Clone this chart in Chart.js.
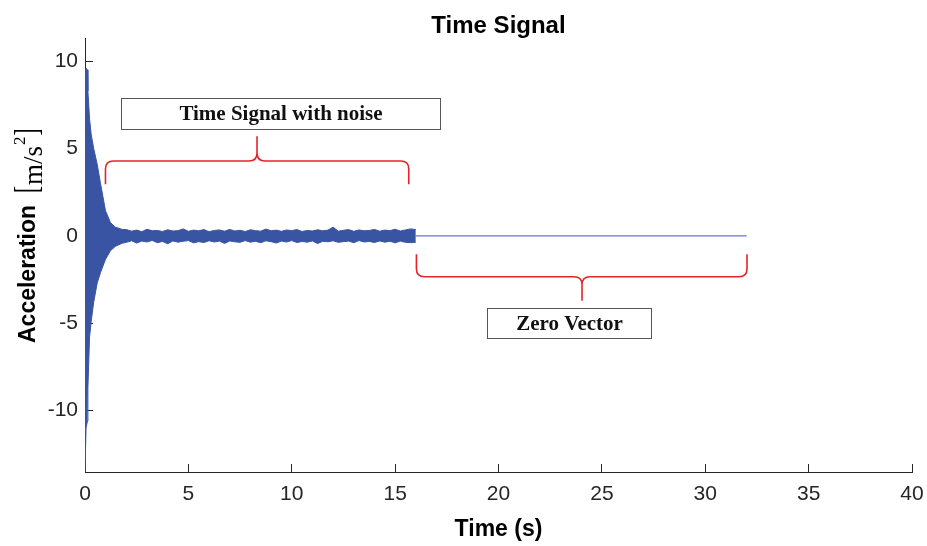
<!DOCTYPE html>
<html>
<head>
<meta charset="utf-8">
<script src="https://cdn.jsdelivr.net/npm/chart.js@4.4.0/dist/chart.umd.min.js"></script>
<style>
  html, body { margin: 0; padding: 0; background: #fff; }
  #wrap { width: 927px; height: 546px; }
</style>
</head>
<body>
<div id="wrap"><canvas id="chart" width="927" height="546"></canvas></div>
<script>
// signal envelope (time in s, acceleration in m/s^2)
const sigTime = [0, 0.05, 0.12, 0.14, 0.22, 0.30, 0.42, 0.59, 0.75, 0.99, 1.23, 1.47, 1.8,
  2.0, 2.25, 2.5, 2.75, 3.0, 3.25, 3.5, 3.75, 4.0, 4.25, 4.5, 4.75, 5.0, 5.25, 5.5, 5.75,
  6.0, 6.25, 6.5, 6.75, 7.0, 7.25, 7.5, 7.75, 8.0, 8.25, 8.5, 8.75, 9.0, 9.25, 9.5, 9.75,
  10.0, 10.25, 10.5, 10.75, 11.0, 11.25, 11.5, 11.75, 12.0, 12.25, 12.5, 12.75,
  13.0, 13.25, 13.5, 13.75, 14.0, 14.25, 14.5, 14.75, 15.0, 15.25, 15.5, 15.75, 16.0];
const sigUpper = [9.5, 9.6, 9.5, 8.3, 6.7, 5.8, 5.0, 4.1, 3.0, 1.45, 0.76, 0.5, 0.37,
  0.36, 0.27, 0.33, 0.24, 0.38, 0.29, 0.31, 0.25, 0.35, 0.28,
  0.30, 0.40, 0.26, 0.33, 0.29, 0.36, 0.24, 0.31, 0.34, 0.27,
  0.37, 0.28, 0.32, 0.25, 0.35, 0.30, 0.27, 0.39, 0.29, 0.33,
  0.26, 0.34, 0.30, 0.36, 0.25, 0.31, 0.28, 0.35, 0.29, 0.33,
  0.50, 0.27, 0.32, 0.36, 0.26, 0.34, 0.29, 0.31, 0.37, 0.27,
  0.33, 0.30, 0.38, 0.28, 0.34, 0.40, 0.36];
const sigLower = [-13.5, -11.0, -10.6, -8.7, -5.8, -4.9, -3.8, -2.7, -2.1, -1.35, -0.85, -0.6, -0.42,
  -0.37, -0.28, -0.41, -0.30, -0.35, -0.26, -0.39, -0.32, -0.45, -0.29,
  -0.36, -0.31, -0.27, -0.40, -0.33, -0.38, -0.28, -0.35, -0.30, -0.43,
  -0.29, -0.34, -0.37, -0.27, -0.36, -0.31, -0.39, -0.28, -0.33, -0.41,
  -0.30, -0.35, -0.27, -0.38, -0.32, -0.36, -0.29, -0.44, -0.31, -0.34,
  -0.28, -0.37, -0.33, -0.30, -0.39, -0.27, -0.35, -0.32, -0.38, -0.29,
  -0.36, -0.31, -0.40, -0.30, -0.37, -0.39, -0.36];

// zero vector part
const zeroTime = [16, 32];
const zeroValue = [0, 0];

// axis limits / ticks
const xRange = [0, 40];
const yRange = [-13.52, 11.33];
const tickStep = 5;

// annotations (data coordinates)
const braces = [
  { x0: 0.99, x1: 15.66, xm: 8.32, yEnd: 2.95, yBar: 4.29, yTip: 5.71 },
  { x0: 16.03, x1: 32.02, xm: 24.04, yEnd: -1.05, yBar: -2.34, yTip: -3.71 }
];
const boxes = [
  { x0: 1.74, x1: 17.17, y0: 7.885, y1: 6.11, text: 'Time Signal with noise' },
  { x0: 19.45, x1: 27.38, y0: -4.12, y1: -5.83, text: 'Zero Vector' }
];

const blue = '#3a54a4';
const axisColor = '#262626';

function pts(xs, ys) {
  return xs.map((x, i) => ({ x: x, y: ys[i] }));
}

// 波括弧
function drawBrace(ctx, b, xs, ys) {
  const xL = xs.getPixelForValue(b.x0), xR = xs.getPixelForValue(b.x1), xM = xs.getPixelForValue(b.xm);
  const yE = ys.getPixelForValue(b.yEnd), yB = ys.getPixelForValue(b.yBar), yT = ys.getPixelForValue(b.yTip);
  const r = 8;
  const sE = Math.sign(yE - yB), sT = Math.sign(yT - yB);
  ctx.beginPath();
  ctx.moveTo(xL, yE);
  ctx.lineTo(xL, yB + sE * r);
  ctx.quadraticCurveTo(xL, yB, xL + r, yB);
  ctx.lineTo(xM - r, yB);
  ctx.quadraticCurveTo(xM, yB, xM, yB + sT * r);
  ctx.lineTo(xM, yT);
  ctx.moveTo(xM, yB + sT * r);
  ctx.quadraticCurveTo(xM, yB, xM + r, yB);
  ctx.lineTo(xR - r, yB);
  ctx.quadraticCurveTo(xR, yB, xR, yB + sE * r);
  ctx.lineTo(xR, yE);
  ctx.stroke();
}

const annotate = {
  id: 'annotate',
  afterDraw(chart) {
    const ctx = chart.ctx;
    const xs = chart.scales.x, ys = chart.scales.y;
    ctx.save();
    ctx.strokeStyle = '#e5242a';
    ctx.lineWidth = 1.6;
    braces.forEach(b => drawBrace(ctx, b, xs, ys));

    boxes.forEach(b => {
      const l = Math.round(xs.getPixelForValue(b.x0)) + 0.5;
      const r = Math.round(xs.getPixelForValue(b.x1)) + 0.5;
      const t = Math.round(ys.getPixelForValue(b.y0)) + 0.5;
      const bt = Math.round(ys.getPixelForValue(b.y1)) + 0.5;
      ctx.fillStyle = '#fff';
      ctx.fillRect(l, t, r - l, bt - t);
      ctx.strokeStyle = '#555';
      ctx.lineWidth = 1;
      ctx.strokeRect(l, t, r - l, bt - t);
      ctx.fillStyle = '#111';
      ctx.font = 'bold 21px "Liberation Serif"';
      ctx.textAlign = 'center';
      ctx.textBaseline = 'middle';
      ctx.fillText(b.text, (l + r) / 2, (t + bt) / 2 + 1);
    });
    ctx.restore();

    // y axis label: Acceleration [m/s^2]
    ctx.save();
    ctx.translate(35, 343);
    ctx.rotate(-Math.PI / 2);
    ctx.fillStyle = '#000';
    ctx.textAlign = 'left';
    ctx.textBaseline = 'alphabetic';
    ctx.font = 'bold 23px "Liberation Sans"';
    ctx.fillText('Acceleration', 0, 0);
    let x = 150;
    const base = 6.7;
    ctx.font = '26px "Liberation Serif"';
    ctx.save(); ctx.translate(x, base - 5); ctx.scale(0.8, 1.3); ctx.fillText('[', 0, 0); ctx.restore();
    x += 8;
    ctx.font = '27px "Liberation Serif"';
    ctx.fillText('m/s', x, base);
    x += ctx.measureText('m/s').width + 1;
    ctx.font = '17px "Liberation Serif"';
    ctx.fillText('2', x, base - 17);
    x += ctx.measureText('2').width + 1;
    ctx.font = '26px "Liberation Serif"';
    ctx.save(); ctx.translate(x, base - 5); ctx.scale(0.8, 1.3); ctx.fillText(']', 0, 0); ctx.restore();
    ctx.restore();
  }
};

Chart.defaults.font.family = '"Liberation Sans", Arial, sans-serif';

new Chart(document.getElementById('chart'), {
  type: 'line',
  data: {
    datasets: [
      {
        data: pts(sigTime, sigLower),
        borderColor: blue,
        borderWidth: 1,
        pointRadius: 0,
        fill: false
      },
      {
        data: pts(sigTime, sigUpper),
        borderColor: blue,
        borderWidth: 1,
        pointRadius: 0,
        backgroundColor: blue,
        fill: '-1'
      },
      {
        data: pts(zeroTime, zeroValue),
        borderColor: '#6578be',
        borderWidth: 1.2,
        pointRadius: 0,
        fill: false
      }
    ]
  },
  options: {
    responsive: false,
    animation: false,
    layout: { padding: { left: 0, right: 2, top: 0, bottom: 0 } },
    plugins: {
      legend: { display: false },
      tooltip: { enabled: false },
      title: {
        display: true,
        text: 'Time Signal',
        fullSize: false,
        color: '#000',
        font: { size: 24, weight: 'bold', lineHeight: 1.0 },
        padding: { top: 14, bottom: 0 }
      }
    },
    scales: {
      x: {
        type: 'linear',
        min: xRange[0],
        max: xRange[1],
        afterFit: s => { s.height = 74; s.paddingRight = 15; },
        ticks: {
          stepSize: tickStep,
          includeBounds: false,
          color: axisColor,
          font: { size: 21 },
          padding: 18,
          maxRotation: 0
        },
        grid: {
          drawOnChartArea: false,
          drawTicks: true,
          tickLength: -8,
          tickColor: axisColor
        },
        border: { display: true, color: axisColor, width: 1 },
        title: {
          display: true,
          text: 'Time (s)',
          color: '#000',
          font: { size: 23, weight: 'bold', lineHeight: 1.2 },
          padding: { top: 0, bottom: 3 }
        }
      },
      y: {
        type: 'linear',
        min: yRange[0],
        max: yRange[1],
        afterFit: s => { s.width = 85; },
        ticks: {
          stepSize: tickStep,
          includeBounds: false,
          color: axisColor,
          font: { size: 21 },
          padding: 15
        },
        grid: {
          drawOnChartArea: false,
          drawTicks: true,
          tickLength: -8,
          tickColor: axisColor
        },
        border: { display: true, color: axisColor, width: 1 }
      }
    }
  },
  plugins: [annotate]
});
</script>
</body>
</html>
